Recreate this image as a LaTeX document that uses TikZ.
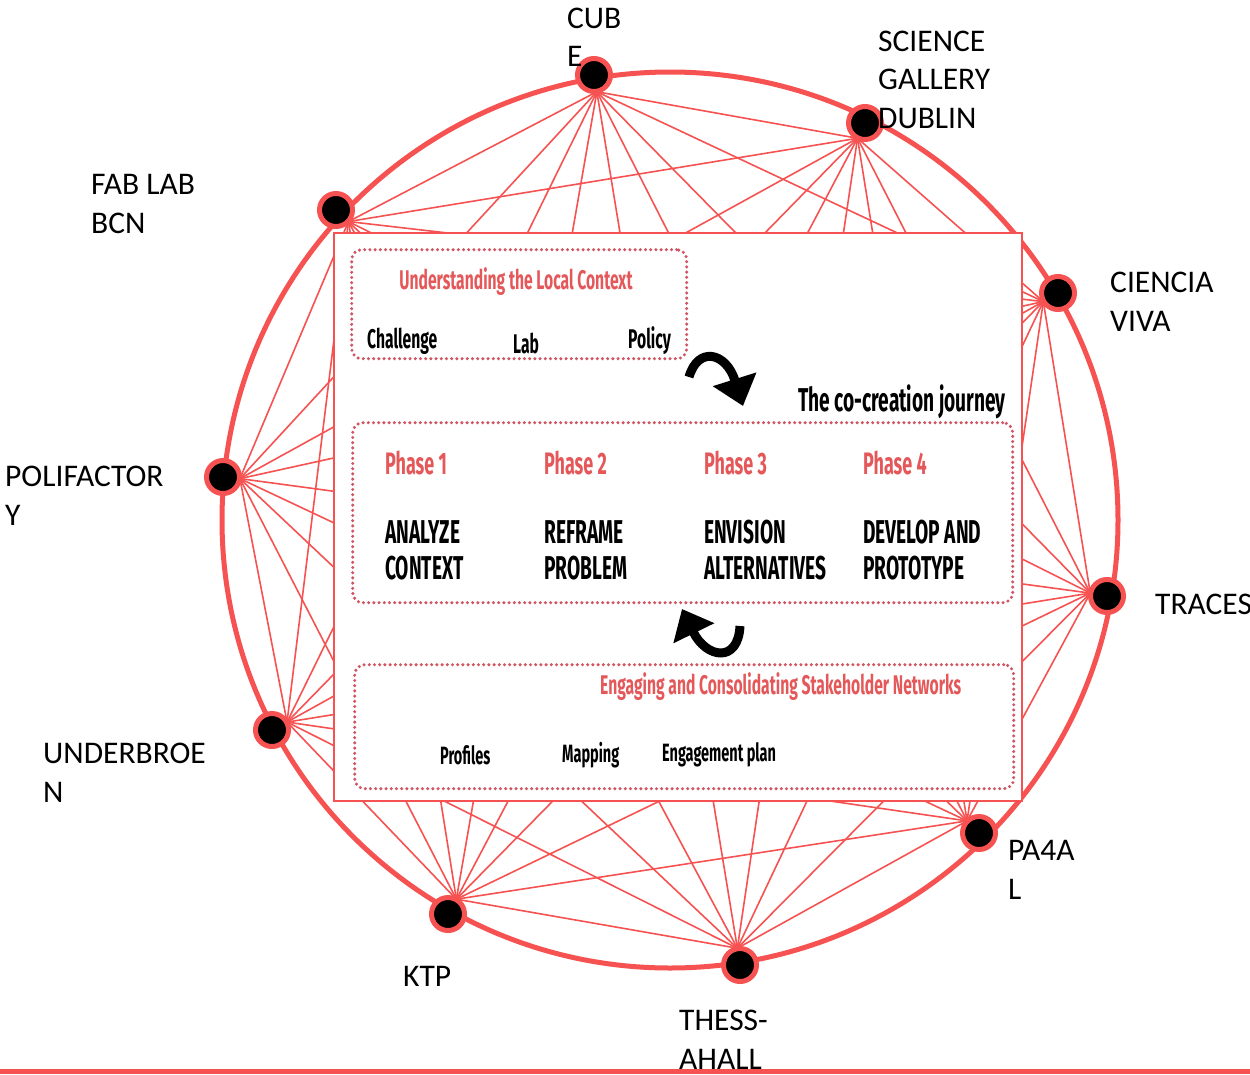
\documentclass[tikz,border=0pt]{standalone}
\usepackage{fontspec}
\setmainfont{Carlito}
\newfontfamily\cond[FakeStretch=0.58]{Fira Sans}
\usetikzlibrary{arrows.meta,calc}
\pgfdeclarelayer{bg}
\pgfsetlayers{bg,main}
\definecolor{ring}{RGB}{246,82,82}
\definecolor{dotc}{RGB}{208,86,98}
\definecolor{tred}{RGB}{228,88,90}
\begin{document}
\begin{tikzpicture}[x=1pt,y=-1pt,
  dotnode/.style={circle,fill=black,draw=ring,line width=5pt,minimum size=33pt,inner sep=0pt},
  edge/.style={draw=ring,line width=1.6pt},
  lab/.style={anchor=west,align=left,inner sep=0pt,font=\fontsize{31.5}{38.5}\selectfont},
  dotbox/.style={draw=dotc,line width=3.4pt,dash pattern=on 0pt off 5.2pt,line cap=round,rounded corners=10pt,inner sep=0pt,anchor=north west},
  redt/.style={text=tred,inner sep=0pt},
  blk/.style={inner sep=0pt,text=black,anchor=west},
  curvy/.style={line width=9pt}
]
\useasboundingbox (0,0) rectangle (1250,1074);
\coordinate (O) at (670,520);
% partner nodes
\foreach \i/\p in {1/{594,75},2/{865,123},3/{1058,293},4/{1107,596},5/{979,833},6/{740,965},7/{448,914},8/{272,730},9/{223,477},10/{336,210}}
  \node[dotnode] (n\i) at (\p) {};
\begin{pgfonlayer}{bg}
\foreach \i in {1,...,9}{
  \pgfmathtruncatemacro\s{\i+1}
  \foreach \j in {\s,...,10} \draw[edge] ($(n\i)!17pt!(O)$) -- ($(n\j)!17pt!(O)$);
}
\draw[ring,line width=5pt] (O) circle[radius=448pt];
\node[draw=ring,line width=1.5pt,fill=white,minimum width=688pt,minimum height=568pt,anchor=north west,inner sep=0pt] (panel) at (333,232) {};
\end{pgfonlayer}
% labels
\node[lab] (l1) at (567,37.5) {CUB\\E};
\node[lab] (l2) at (878,79.5) {SCIENCE\\GALLERY\\DUBLIN};
\node[lab] (l3) at (1110,302) {CIENCIA\\VIVA};
\node[lab] (l4) at (1155,604) {TRACES};
\node[lab] (l5) at (1008,870) {PA4A\\L};
\node[lab] (l6) at (679,1040) {THESS-\\AHALL};
\node[lab] (l7) at (403,976) {KTP};
\node[lab] (l8) at (43,773) {UNDERBROE\\N};
\node[lab] (l9) at (5,496) {POLIFACTOR\\Y};
\node[lab] (l10) at (91,204) {FAB LAB\\BCN};
% inner boxes
\node[dotbox,minimum width=335pt,minimum height=109pt] (ctx) at (350,248) {};
\node[dotbox,minimum width=660pt,minimum height=180pt] (jour) at (351,421) {};
\node[dotbox,minimum width=659pt,minimum height=124pt] (eng) at (353,663) {};
\node[redt,font=\cond\bfseries\fontsize{27}{27}\selectfont] (ctxt) at (516,282) {Understanding the Local Context};
\node[blk,font=\cond\bfseries\fontsize{27}{27}\selectfont] (ch) at (367,341) {Challenge};
\node[blk,font=\cond\bfseries\fontsize{27}{27}\selectfont] (lab) at (513,343) {Lab};
\node[blk,font=\cond\bfseries\fontsize{27}{27}\selectfont] (pol) at (628,341) {Policy};
\node[blk,font=\cond\bfseries\fontsize{33}{33}\selectfont] (jt) at (798,402) {The co-creation journey};
\foreach \k/\x/\t in {1/385/{ANALYZE\\CONTEXT},2/544/{REFRAME\\PROBLEM},3/704/{ENVISION\\ALTERNATIVES},4/863/{DEVELOP AND\\PROTOTYPE}}{
  \node[redt,anchor=west,font=\cond\bfseries\fontsize{31}{31}\selectfont] (ph\k) at (\x,463) {Phase \k};
  \node[blk,align=left,font=\cond\bfseries\fontsize{33}{36}\selectfont] (st\k) at (\x,550) {\t};
}
\node[redt,anchor=west,font=\cond\bfseries\fontsize{27}{27}\selectfont] (engt) at (600,687) {Engaging and Consolidating Stakeholder Networks};
\node[blk,font=\cond\bfseries\fontsize{25}{25}\selectfont] (pro) at (440,755) {Profiles};
\node[blk,font=\cond\bfseries\fontsize{25}{25}\selectfont] (map) at (562,755) {Mapping};
\node[blk,font=\cond\bfseries\fontsize{25}{25}\selectfont] (epl) at (662,755) {Engagement plan};
% curved arrows
\coordinate (a1s) at (689,377);
\coordinate (a1e) at (743,406);
\draw[curvy,-{Triangle[length=28pt,width=44pt]}] (a1s) .. controls (698,346) and (726,352) .. (a1e);
\coordinate (a2s) at (740,626);
\coordinate (a2e) at (682,609);
\draw[curvy,-{Triangle[length=27pt,width=44pt]}] (a2s) .. controls (738,664) and (706,658) .. (a2e);
% bottom rule
\fill[ring] (0,1069) rectangle (1250,1074);
\end{tikzpicture}
\end{document}
